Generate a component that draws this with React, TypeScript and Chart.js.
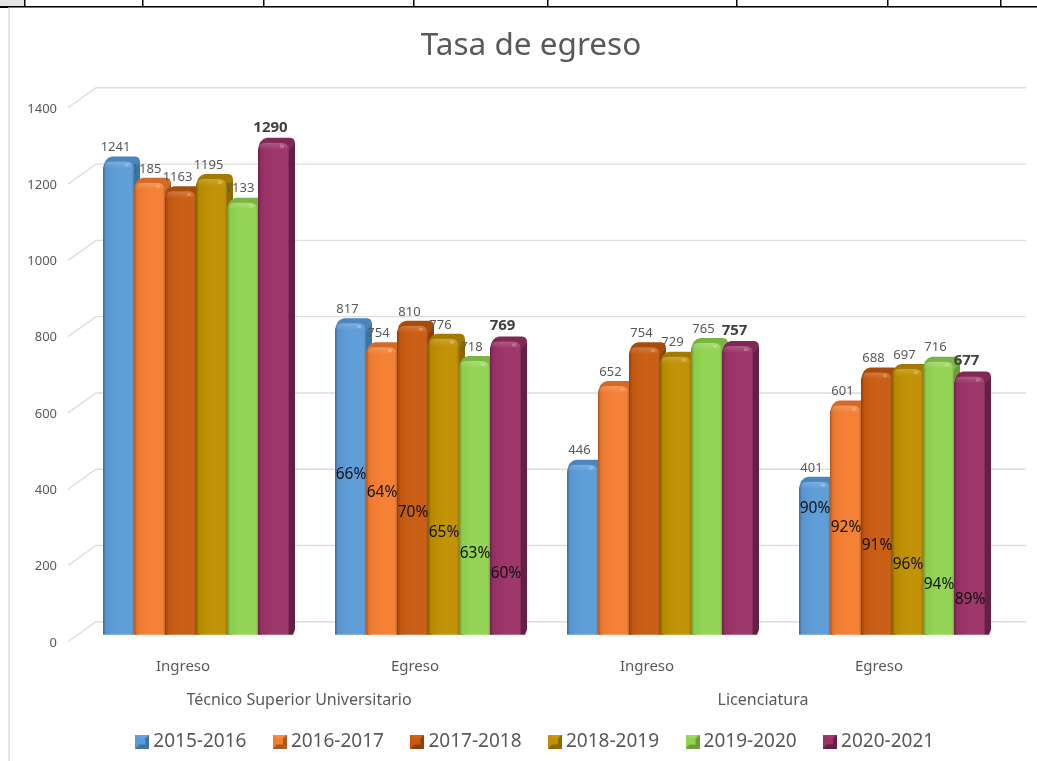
import React, { useEffect, useRef } from "react";
import { Chart, registerables } from "chart.js";

Chart.register(...registerables);

const levels = ["Ingreso", "Egreso", "Ingreso", "Egreso"];
const groups = ["Técnico Superior Universitario", "Licenciatura"];
const years = ["2015-2016", "2016-2017", "2017-2018", "2018-2019", "2019-2020", "2020-2021"];

const v2015 = [1241, 817, 446, 401];
const v2016 = [1185, 754, 652, 601];
const v2017 = [1163, 810, 754, 688];
const v2018 = [1195, 776, 729, 697];
const v2019 = [1133, 718, 765, 716];
const v2020 = [1290, 769, 757, 677];
const seriesValues = [v2015, v2016, v2017, v2018, v2019, v2020];

// Percent labels on the Egreso columns, per series
const pct2015 = [null, "66%", null, "90%"];
const pct2016 = [null, "64%", null, "92%"];
const pct2017 = [null, "70%", null, "91%"];
const pct2018 = [null, "65%", null, "96%"];
const pct2019 = [null, "63%", null, "94%"];
const pct2020 = [null, "60%", null, "89%"];
const seriesPct = [pct2015, pct2016, pct2017, pct2018, pct2019, pct2020];

// Height (in axis units) at which each hand-placed percent label sits
const pctHeight2015 = [0, 419, 0, 330];
const pctHeight2016 = [0, 372, 0, 281];
const pctHeight2017 = [0, 320, 0, 234];
const pctHeight2018 = [0, 267, 0, 184];
const pctHeight2019 = [0, 213, 0, 132];
const pctHeight2020 = [0, 160, 0, 92];
const seriesPctHeight = [pctHeight2015, pctHeight2016, pctHeight2017, pctHeight2018, pctHeight2019, pctHeight2020];

const baseColors = ["#5B9BD7", "#F47D30", "#C95A10", "#BF8F00", "#92D450", "#9B3166"];
const edgeColors = ["#3D74A6", "#A85A22", "#8F3F08", "#8C6A00", "#6B9E38", "#642044"];
const capColors = ["#4A86BD", "#D46A28", "#A84C0C", "#A27A00", "#7CB444", "#812955"];
const lightColors = ["#62A3E0", "#FF8A35", "#D66212", "#CC9900", "#9BDC58", "#A53670"];

const DX = 6;
const DY = 5;

function swatch(base: string, edge: string, light: string) {
  const c = document.createElement("canvas");
  c.width = 14;
  c.height = 14;
  const g = c.getContext("2d")!;
  const s = 14;
  const i = 4;
  const tri = (pts: number[][], color: string) => {
    g.fillStyle = color;
    g.beginPath();
    g.moveTo(pts[0][0], pts[0][1]);
    pts.slice(1).forEach((p) => g.lineTo(p[0], p[1]));
    g.closePath();
    g.fill();
  };
  g.fillStyle = base;
  g.fillRect(0, 0, s, s);
  tri([[0, 0], [s, 0], [s - i, i], [i, i]], light);
  tri([[0, 0], [i, i], [i, s - i], [0, s]], base);
  tri([[s, 0], [s, s], [s - i, s - i], [s - i, i]], edge);
  tri([[0, s], [s, s], [s - i, s - i], [i, s - i]], edge);
  g.fillStyle = base;
  g.fillRect(i, i, s - 2 * i, s - 2 * i);
  return c;
}

function roundedTop(ctx: CanvasRenderingContext2D, x: number, top: number, w: number, bottom: number, r: number) {
  ctx.beginPath();
  ctx.moveTo(x, bottom);
  ctx.lineTo(x, top + r);
  ctx.quadraticCurveTo(x, top, x + r, top);
  ctx.lineTo(x + w - r, top);
  ctx.quadraticCurveTo(x + w, top, x + w, top + r);
  ctx.lineTo(x + w, bottom);
  ctx.closePath();
}

const sheetPlugin = {
  id: "sheet",
  beforeDraw(chart: any) {
    const ctx = chart.ctx;
    ctx.save();
    ctx.fillStyle = "#ffffff";
    ctx.fillRect(0, 0, chart.width, chart.height);
    ctx.fillStyle = "#E4E4E4";
    ctx.fillRect(0, 0, 24, 6);
    ctx.fillStyle = "#E3E3E3";
    ctx.fillRect(8, 8, 2, chart.height - 8);
    ctx.fillStyle = "#EDEDED";
    ctx.fillRect(8, 7, chart.width - 8, 1);
    ctx.fillStyle = "#000000";
    ctx.fillRect(0, 6, chart.width, 1.5);
    ctx.fillRect(0, 6, 8, 2);
    [24, 142, 263, 413, 547, 736, 887, 1000].forEach((x) => ctx.fillRect(x, 0, 1.5, 6));
    ctx.restore();
  },
};

const backGridPlugin = {
  id: "backGrid",
  beforeDatasetsDraw(chart: any) {
    const { ctx, scales } = chart;
    const y = scales.y;
    ctx.save();
    ctx.strokeStyle = "#DDDDDD";
    ctx.lineWidth = 1.4;
    y.ticks.forEach((t: any) => {
      const p = y.getPixelForValue(t.value);
      ctx.beginPath();
      ctx.moveTo(68, p + 7);
      ctx.lineTo(96, p - 13);
      ctx.lineTo(1026, p - 13);
      ctx.stroke();
    });
    ctx.restore();
  },
};

function drawBack(chart: any, meta: any, i: number) {
  const ctx = chart.ctx;
  ctx.save();
  meta.data.forEach((bar: any) => {
    const left = bar.x - bar.width / 2;
    const w = bar.width;
    const right = left + w;
    // Right-hand side face
    ctx.fillStyle = edgeColors[i];
    ctx.beginPath();
    ctx.moveTo(right, bar.base);
    ctx.lineTo(right + DX - 2, bar.base);
    ctx.lineTo(right + DX, bar.base - DY);
    ctx.lineTo(right + DX, bar.y);
    ctx.lineTo(right, bar.y);
    ctx.closePath();
    ctx.fill();
    // Rounded cap over the top of the column
    ctx.fillStyle = capColors[i];
    ctx.beginPath();
    ctx.moveTo(left, bar.y + 8);
    ctx.quadraticCurveTo(left + 1, bar.y - DY + 1, left + 9, bar.y - DY);
    ctx.lineTo(right + DX - 5, bar.y - DY);
    ctx.quadraticCurveTo(right + DX, bar.y - DY, right + DX, bar.y + 1);
    ctx.lineTo(right, bar.y + 8);
    ctx.closePath();
    ctx.fill();
  });
  ctx.restore();
}

function drawGloss(chart: any, meta: any) {
  const ctx = chart.ctx;
  meta.data.forEach((bar: any) => {
    const left = bar.x - bar.width / 2;
    const w = bar.width;
    ctx.save();
    roundedTop(ctx, left, bar.y, w, bar.base, 8);
    ctx.clip();
    const h = ctx.createLinearGradient(left, 0, left + w, 0);
    h.addColorStop(0, "rgba(0,0,0,0.3)");
    h.addColorStop(0.1, "rgba(0,0,0,0.04)");
    h.addColorStop(0.5, "rgba(255,255,255,0.03)");
    h.addColorStop(0.88, "rgba(255,255,255,0.03)");
    h.addColorStop(1, "rgba(0,0,0,0.2)");
    ctx.fillStyle = h;
    ctx.fillRect(left, bar.y, w, bar.base - bar.y);
    const t = ctx.createLinearGradient(0, bar.y, 0, bar.y + 7);
    t.addColorStop(0, "rgba(255,255,255,0.18)");
    t.addColorStop(1, "rgba(255,255,255,0)");
    ctx.fillStyle = t;
    ctx.fillRect(left, bar.y, w, 7);
    ctx.fillStyle = "rgba(255,255,255,0.22)";
    ctx.fillRect(left + w - 9, bar.y + 2, 4, 3);
    ctx.restore();
  });
}

// Chart.js paints the last dataset first; the reference stacks them the other way round.
const bar3dPlugin = {
  id: "bar3d",
  beforeDatasetDraw() {
    return false;
  },
  afterDatasetsDraw(chart: any) {
    years.forEach((_, i) => {
      const meta = chart.getDatasetMeta(i);
      drawBack(chart, meta, i);
      meta.controller.draw();
      drawGloss(chart, meta);
    });
  },
};

const labelPlugin = {
  id: "valueLabels",
  afterDatasetsDraw(chart: any) {
    const ctx = chart.ctx;
    const y = chart.scales.y;
    ctx.save();
    ctx.textAlign = "center";
    ctx.textBaseline = "middle";
    seriesValues.forEach((vals, i) => {
      const meta = chart.getDatasetMeta(i);
      const last = i === seriesValues.length - 1;
      vals.forEach((v, k) => {
        const bar = meta.data[k];
        ctx.font = last ? "bold 15px 'Noto Sans'" : "13px 'Noto Sans'";
        ctx.fillStyle = last ? "#404040" : "#595959";
        ctx.fillText(String(v), bar.x - 3, bar.y - (last ? 15.5 : 14));
      });
    });
    ctx.font = "15.5px 'Noto Sans'";
    ctx.fillStyle = "#111111";
    seriesPct.forEach((vals, i) => {
      const meta = chart.getDatasetMeta(i);
      vals.forEach((p, k) => {
        if (!p) return;
        ctx.fillText(p, meta.data[k].x + 0.5, y.getPixelForValue(seriesPctHeight[i][k]));
      });
    });
    ctx.restore();
  },
};

const shiftPlugin = {
  id: "shiftBoxes",
  afterLayout(chart: any) {
    const shift = (box: any, center: number) => {
      const d = center - (box.left + box.right) / 2;
      box.left += d;
      box.right += d;
    };
    shift(chart.legend, 537.5);
    shift(chart.titleBlock, 531);
    // Let the group labels paint past the narrow band the layout gives them.
    chart.scales.x2.bottom += 30;
  },
};

export default function App() {
  const ref = useRef<HTMLCanvasElement>(null);
  useEffect(() => {
    document.body.style.margin = "0";
    const swatches = years.map((_, i) => swatch(baseColors[i], edgeColors[i], lightColors[i]));
    const chart = new Chart(ref.current!, {
      type: "bar",
      data: {
        labels: levels,
        datasets: years.map((label, i) => ({
          label,
          data: seriesValues[i],
          backgroundColor: baseColors[i],
          xAxisID: "x",
          yAxisID: "y",
          categoryPercentage: 186 / 232,
          barPercentage: 1,
          borderRadius: { topLeft: 8, topRight: 8, bottomLeft: 0, bottomRight: 0 },
          borderSkipped: "bottom",
        })),
      },
      options: {
        responsive: false,
        animation: false,
        layout: { autoPadding: false, padding: { left: 0, right: 29, top: 0, bottom: 0 } },
        plugins: {
          tooltip: { enabled: false },
          title: {
            display: true,
            text: "Tasa de egreso",
            color: "#595959",
            font: { family: "'Noto Sans'", size: 31.5, weight: "normal" },
            padding: { top: 27, bottom: 36 },
          },
          legend: {
            position: "bottom",
            labels: {
              usePointStyle: true,
              pointStyleWidth: 3,
              boxHeight: 14,
              padding: 32,
              color: "#595959",
              font: { family: "'Noto Sans'", size: 19 },
              generateLabels: () =>
                years.map((text, i) => ({
                  text,
                  datasetIndex: i,
                  pointStyle: swatches[i],
                  fontColor: "#595959",
                  fillStyle: baseColors[i],
                  strokeStyle: baseColors[i],
                  lineWidth: 0,
                })),
            },
          },
        },
        scales: {
          x: {
            position: "bottom",
            grid: { display: false, drawTicks: false },
            border: { display: false },
            afterFit: (s: any) => { s.height = 50; },
            ticks: { color: "#595959", labelOffset: -13, padding: 23, maxRotation: 0, font: { family: "'Noto Sans'", size: 15 } },
          },
          x2: {
            type: "category",
            position: "bottom",
            labels: groups,
            grid: { display: false, drawTicks: false },
            border: { display: false },
            afterFit: (s: any) => { s.height = 15.2; },
            ticks: { color: "#595959", labelOffset: -13, padding: 6, maxRotation: 0, font: { family: "'Noto Sans'", size: 16 } },
          },
          y: {
            min: 0,
            max: 1400,
            grid: { display: false, drawTicks: false },
            border: { display: false },
            afterFit: (s: any) => { s.width = 80; },
            ticks: { stepSize: 200, color: "#595959", labelOffset: 8, padding: 23, font: { family: "'Noto Sans'", size: 13 }, callback: (v: any) => String(v) },
          },
        },
      },
      plugins: [sheetPlugin, backGridPlugin, bar3dPlugin, labelPlugin, shiftPlugin],
    } as any);
    return () => chart.destroy();
  }, []);
  return <canvas ref={ref} width={1037} height={761} style={{ display: "block" }} />;
}
